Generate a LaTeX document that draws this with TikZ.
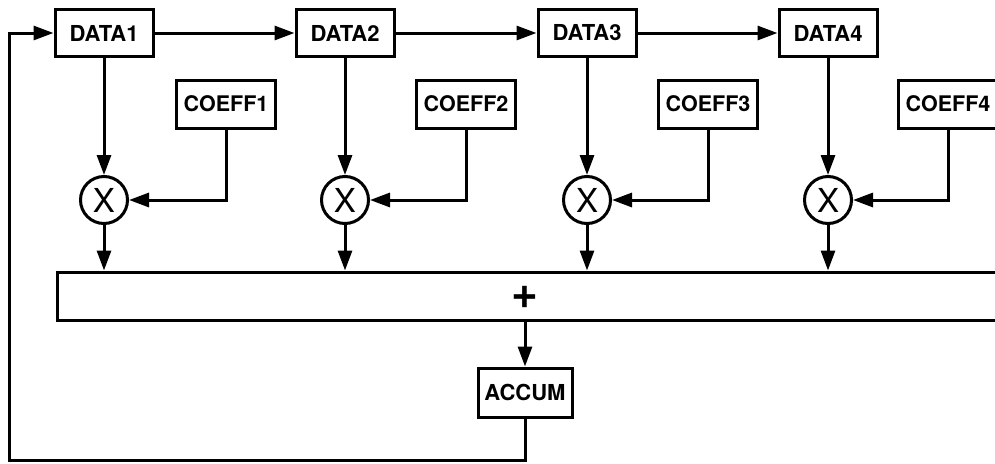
\documentclass[tikz,border=0pt]{standalone}
\usepackage{fontspec}
\setmainfont{TeX Gyre Heros}
\usetikzlibrary{arrows.meta}
\tikzset{
  every picture/.style={x=1pt,y=-1pt},
  wire/.style={line width=3pt},
  feed/.style={wire,-{Triangle[length=20pt,width=14pt]}},
  regbox/.style={draw,line width=3pt,minimum width=98pt,minimum height=47pt,inner sep=0pt,font=\fontsize{22}{22}\bfseries},
  coefbox/.style={draw,line width=3pt,minimum width=99pt,minimum height=48pt,inner sep=0pt,font=\fontsize{21.5}{22}\bfseries},
  mulnode/.style={draw,circle,line width=3pt,minimum size=47pt,inner sep=0pt,font=\fontsize{33}{33}\selectfont},
  sumbox/.style={draw,line width=3pt,inner sep=0pt},
}
\begin{document}
\begin{tikzpicture}
\useasboundingbox (0,0) rectangle (995,463);
\clip (0,0) rectangle (995,463);
% delay line registers
\node[regbox] (d1) at (104,33) {DATA1};
\node[regbox] (d2) at (345,33) {DATA2};
\node[regbox] (d3) at (587,33) {DATA3};
\node[regbox] (d4) at (828,33) {DATA4};
% coefficient registers
\node[coefbox] (c1) at (226,104) {COEFF1};
\node[coefbox] (c2) at (466,104) {COEFF2};
\node[coefbox] (c3) at (708,104) {COEFF3};
\node[coefbox] (c4) at (948,104) {COEFF4};
% multipliers
\node[mulnode] (m1) at (104,200) {X};
\node[mulnode] (m2) at (345,200) {X};
\node[mulnode] (m3) at (587,200) {X};
\node[mulnode] (m4) at (828,200) {X};
% adder spanning all taps
\node[sumbox,minimum width=960pt,minimum height=48pt,anchor=west] (sum) at (56,296) {};
\node[font=\fontsize{46}{46}\bfseries,inner sep=0pt] (plus) at (525,297) {+};
% accumulator
\node[regbox,minimum width=94pt,minimum height=49pt] (acc) at (525,392.5) {ACCUM};
% data shifts
\draw[feed] (d1) -- (d2);
\draw[feed] (d2) -- (d3);
\draw[feed] (d3) -- (d4);
% taps
\foreach \i in {1,2,3,4}{
  \draw[feed] (d\i.south) -- (m\i.north);
  \draw[feed] (c\i.south) |- (m\i.east);
  \draw[feed] (m\i.south) -- (m\i.south |- sum.north);
}
\draw[feed] (sum.south -| acc.north) -- (acc.north);
% feedback loop
\coordinate (lb) at (9,460);
\draw[feed] (acc.south) |- (lb) |- (d1.west);
\end{tikzpicture}
\end{document}
